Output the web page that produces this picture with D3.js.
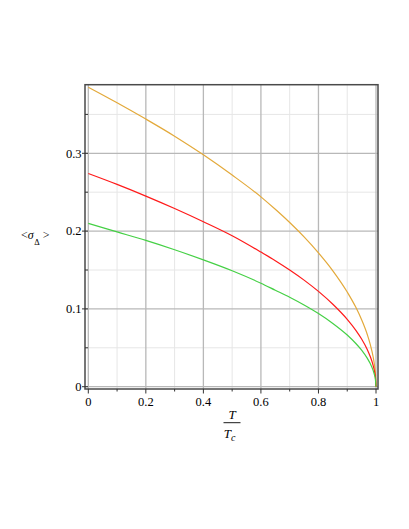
<!DOCTYPE html>
<html>
<head>
<meta charset="utf-8">
<script src="https://cdn.jsdelivr.net/npm/d3@7"></script>
<style>
  html, body { margin: 0; padding: 0; background: #fff; }
  svg { display: block; }
</style>
</head>
<body>
<script>
// ---- data ----
const tValues = [0, 0.1, 0.2, 0.3, 0.4, 0.5, 0.6, 0.65, 0.7, 0.75, 0.8, 0.85, 0.9, 0.93, 0.95, 0.97, 0.98, 0.99, 0.995, 0.998, 1];
const orangeValues = [0.385, 0.365, 0.344, 0.322, 0.298, 0.272, 0.244, 0.228, 0.211, 0.1925, 0.172, 0.149, 0.1217, 0.102, 0.086, 0.0667, 0.0544, 0.0385, 0.0272, 0.0172, 0];
const redValues    = [0.274, 0.260, 0.245, 0.229, 0.212, 0.194, 0.173, 0.162, 0.150, 0.137, 0.1225, 0.106, 0.0866, 0.0725, 0.0613, 0.0475, 0.0388, 0.0274, 0.0194, 0.0122, 0];
const greenValues  = [0.210, 0.199, 0.188, 0.176, 0.163, 0.149, 0.133, 0.124, 0.115, 0.105, 0.094, 0.0813, 0.0664, 0.0555, 0.047, 0.0364, 0.0297, 0.021, 0.0148, 0.0094, 0];
const seriesColors = ["#E3A93A", "#FF1A1A", "#45D045"];
const xTickLabels = ["0", "0.2", "0.4", "0.6", "0.8", "1"];
const xMajorTicks = [0, 0.2, 0.4, 0.6, 0.8, 1];
const xMinorTicks = [0.1, 0.3, 0.5, 0.7, 0.9];
const yTickLabels = ["0", "0.1", "0.2", "0.3"];
const yMajorTicks = [0, 0.1, 0.2, 0.3];
const yMinorTicks = [0.05, 0.15, 0.25, 0.35];

const FONT = "'Liberation Serif', 'Times New Roman', Times, 'DejaVu Serif', serif";
const W = 409, H = 529;
const svg = d3.select("body").append("svg").attr("width", W).attr("height", H)
  .attr("font-family", FONT);

const x = d3.scaleLinear().domain([0, 1]).range([88.3, 376]);
const y = d3.scaleLinear().domain([0, 0.3]).range([386.7, 153.3]);

const frame = { left: 85, right: 378, top: 84.7, bottom: 389 };

// grid
const grid = svg.append("g");
grid.selectAll("line.xmin").data(xMinorTicks).enter().append("line")
  .attr("x1", d => x(d)).attr("x2", d => x(d))
  .attr("y1", frame.top).attr("y2", frame.bottom)
  .attr("stroke", "#e6e6e6").attr("stroke-width", 1);
grid.selectAll("line.ymin").data(yMinorTicks).enter().append("line")
  .attr("x1", frame.left).attr("x2", frame.right)
  .attr("y1", d => y(d)).attr("y2", d => y(d))
  .attr("stroke", "#e6e6e6").attr("stroke-width", 1);
grid.selectAll("line.xmaj").data(xMajorTicks).enter().append("line")
  .attr("x1", d => x(d)).attr("x2", d => x(d))
  .attr("y1", frame.top).attr("y2", frame.bottom)
  .attr("stroke", "#b8b8b8").attr("stroke-width", 1.3);
grid.selectAll("line.ymaj").data(yMajorTicks).enter().append("line")
  .attr("x1", frame.left).attr("x2", frame.right)
  .attr("y1", d => y(d)).attr("y2", d => y(d))
  .attr("stroke", "#b8b8b8").attr("stroke-width", 1.3);

// curves
const allSeries = [orangeValues, redValues, greenValues];
const line = d3.line()
  .x((d, i) => x(tValues[i]))
  .y(d => y(d))
  .curve(d3.curveMonotoneX);
svg.append("g").selectAll("path").data(allSeries).enter().append("path")
  .attr("d", d => line(d))
  .attr("fill", "none")
  .attr("stroke", (d, i) => seriesColors[i])
  .attr("stroke-width", 1.2);

// frame
svg.append("rect")
  .attr("x", frame.left).attr("y", frame.top)
  .attr("width", frame.right - frame.left).attr("height", frame.bottom - frame.top)
  .attr("fill", "none").attr("stroke", "#4a4a4a").attr("stroke-width", 1.5);

// y ticks
const ax = svg.append("g").attr("stroke", "#333").attr("stroke-width", 1);
ax.selectAll("line.yt").data(yMajorTicks).enter().append("line")
  .attr("x1", 82).attr("x2", 88).attr("y1", d => y(d)).attr("y2", d => y(d));
ax.selectAll("line.ytm").data(yMinorTicks).enter().append("line")
  .attr("x1", 85).attr("x2", 88).attr("y1", d => y(d)).attr("y2", d => y(d));
// x ticks
ax.selectAll("line.xt").data(xMajorTicks).enter().append("line")
  .attr("x1", d => x(d)).attr("x2", d => x(d)).attr("y1", frame.bottom).attr("y2", 393.5);
ax.selectAll("line.xtm").data(xMinorTicks).enter().append("line")
  .attr("x1", d => x(d)).attr("x2", d => x(d)).attr("y1", frame.bottom).attr("y2", 391.5);

// tick labels
svg.append("g").selectAll("text").data(yMajorTicks).enter().append("text")
  .attr("x", 81.5).attr("y", d => y(d) + 4.3)
  .attr("text-anchor", "end").attr("font-size", 12.5)
  .text((d, i) => yTickLabels[i]);
svg.append("g").selectAll("text").data(xMajorTicks).enter().append("text")
  .attr("x", d => x(d)).attr("y", 406)
  .attr("text-anchor", "middle").attr("font-size", 12.5)
  .text((d, i) => xTickLabels[i]);

// x axis label: T / T_c
svg.append("text").attr("x", 232).attr("y", 418.5).attr("text-anchor", "middle")
  .attr("font-size", 13).attr("font-style", "italic").text("T");
svg.append("line").attr("x1", 223.5).attr("x2", 240.5).attr("y1", 422.7).attr("y2", 422.7)
  .attr("stroke", "#000").attr("stroke-width", 0.9);
const tc = svg.append("text").attr("x", 229.5).attr("y", 437.5).attr("text-anchor", "middle")
  .attr("font-size", 13).attr("font-style", "italic");
tc.append("tspan").text("T");
tc.append("tspan").attr("font-size", 10).attr("dy", 3.5).text("c");

// y axis label: <σ_Δ>
const yl = svg.append("text").attr("x", 21).attr("y", 238.5).attr("font-size", 12);
yl.append("tspan").text("<");
yl.append("tspan").attr("font-style", "italic").text("σ");
yl.append("tspan").attr("font-size", 8.5).attr("dy", 6).attr("dx", 0.5).text("Δ");
yl.append("tspan").attr("dy", -6).attr("dx", 3).text(">");
</script>
</body>
</html>
